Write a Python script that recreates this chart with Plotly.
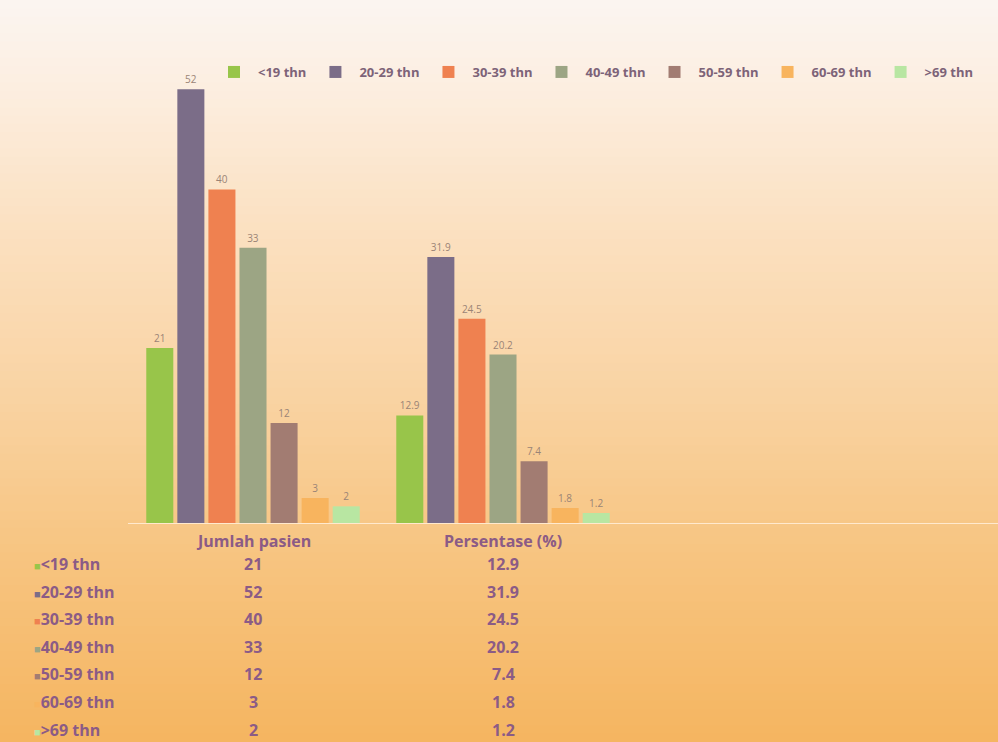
import plotly.graph_objects as go

categories = ["Jumlah pasien", "Persentase (%)"]
age_groups = ["<19 thn", "20-29 thn", "30-39 thn", "40-49 thn", "50-59 thn", "60-69 thn", ">69 thn"]
jumlah_pasien = [21, 52, 40, 33, 12, 3, 2]
persentase = [12.9, 31.9, 24.5, 20.2, 7.4, 1.8, 1.2]
jumlah_labels = ["21", "52", "40", "33", "12", "3", "2"]
persen_labels = ["12.9", "31.9", "24.5", "20.2", "7.4", "1.8", "1.2"]
colors = ["#98c54a", "#7b6d88", "#ef8150", "#9ca584", "#a27c72", "#f8b45e", "#b8e6a2"]

W, H = 998, 742
ML, MR, MT, MB = 128, 0, 56, 219
PW, PH = W - ML - MR, H - MT - MB

TEXT_COL = "#8b5b86"
FONT = "Open Sans"

fig = go.Figure()
for i, g in enumerate(age_groups):
    vals = [jumlah_pasien[i], persentase[i]]
    labs = [jumlah_labels[i], persen_labels[i]]
    fig.add_trace(go.Bar(
        x=categories, y=vals, name=g, text=labs,
        textposition="outside", cliponaxis=False,
        textfont=dict(family="Open Sans", size=10, color="#9a8476"),
        marker=dict(color=colors[i], line=dict(width=0)),
    ))

# gradient background bands (full page)
def lerp(c1, c2, t):
    return tuple(int(round(a + (b - a) * t)) for a, b in zip(c1, c2))

stops = [(0.0, (251, 245, 241)), (0.12, (252, 238, 224)), (0.3, (251, 225, 194)),
         (0.55, (249, 210, 160)), (0.75, (247, 196, 128)), (1.0, (245, 181, 96))]

def grad(t):
    for (t0, c0), (t1, c1) in zip(stops[:-1], stops[1:]):
        if t <= t1:
            return lerp(c0, c1, (t - t0) / (t1 - t0))
    return stops[-1][1]

shapes = []
N = 90
for k in range(N):
    y0px = H * k / N - (5 if k == 0 else 0)
    y1px = H * (k + 1) / N + (1 if k < N - 1 else 5)
    c = grad((k + 0.5) / N)
    shapes.append(dict(
        type="rect", xref="paper", yref="paper", layer="below",
        x0=-(ML + 5) / PW, x1=1.0 + 0.02,
        y0=(H - MB - y1px) / PH, y1=(H - MB - y0px) / PH,
        fillcolor="rgb(%d,%d,%d)" % c, line=dict(width=0),
    ))

def px_x(x):
    return (x - ML) / PW

def px_y(y):
    return (H - MB - y) / PH

annotations = []
# table header
col_centers = [253, 503]
for cat, cx in zip(categories, col_centers):
    annotations.append(dict(
        xref="paper", yref="paper", x=px_x(cx), y=px_y(541), text="<b>%s</b>" % cat,
        showarrow=False, xanchor="center", yanchor="middle",
        font=dict(family=FONT, size=16, color=TEXT_COL)))
# table rows
for i, g in enumerate(age_groups):
    ry = 564 + 27.6 * i
    annotations.append(dict(
        xref="paper", yref="paper", x=px_x(32), y=px_y(ry),
        text="<span style='color:%s;font-size:11px'>■</span><b>%s</b>" % (colors[i], g),
        showarrow=False, xanchor="left", yanchor="middle",
        font=dict(family=FONT, size=16, color=TEXT_COL)))
    for vals, cx in zip([jumlah_labels, persen_labels], col_centers):
        annotations.append(dict(
            xref="paper", yref="paper", x=px_x(cx), y=px_y(ry),
            text="<b>%s</b>" % vals[i],
            showarrow=False, xanchor="center", yanchor="middle",
            font=dict(family=FONT, size=16, color=TEXT_COL)))

fig.update_layout(
    width=W, height=H,
    margin=dict(l=ML, r=MR, t=MT, b=MB, pad=0),
    paper_bgcolor="#f8d3a0", plot_bgcolor="rgba(0,0,0,0)",
    barmode="group", bargap=0.13, bargroupgap=0.13,
    shapes=shapes, annotations=annotations,
    showlegend=True,
    legend=dict(orientation="h", x=px_x(210), y=px_y(72), xanchor="left", yanchor="middle",
                bgcolor="rgba(0,0,0,0)",
                font=dict(family=FONT, size=13, color="#7d6378", weight="bold"),
                itemwidth=38, traceorder="normal"),
    xaxis=dict(range=[-0.5, 2.98], showticklabels=False, ticks="", showgrid=False,
               zeroline=False, showline=True, linecolor="rgba(255,236,214,0.9)", linewidth=1,
               fixedrange=True),
    yaxis=dict(range=[0, 56], visible=False, showgrid=False, zeroline=False, fixedrange=True),
    font=dict(family=FONT),
)

fig.write_html("out.html")
